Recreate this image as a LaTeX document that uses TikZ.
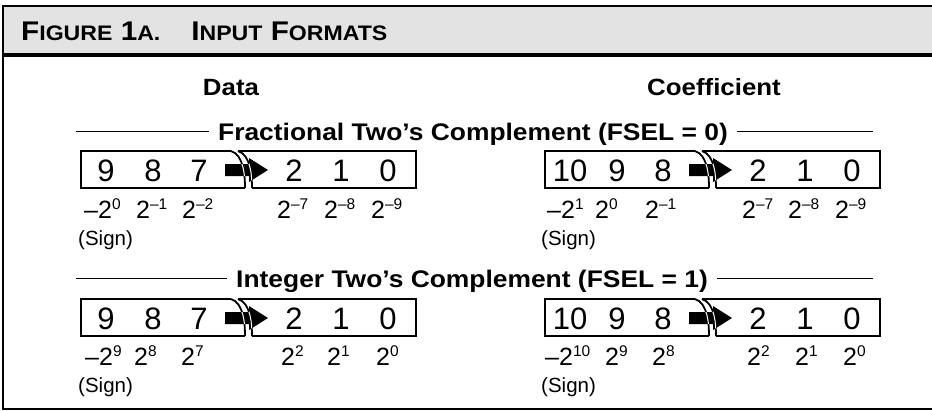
\documentclass[tikz,border=0pt]{standalone}
\usepackage{fontspec}
\setmainfont{Liberation Sans}
\newfontfamily\hb{Liberation Sans}[FakeStretch=1.1]
\definecolor{hdrgray}{HTML}{E3E3E3}
\newcommand\dg{\fontsize{31}{32}\selectfont}
\newcommand\ex{\fontsize{25}{26}\selectfont}
\newcommand\sps{\fontsize{15.5}{16}\selectfont}
\newcommand\smc{\fontsize{21}{21}\selectfont}
\newcommand\pw[2]{#1\raisebox{9pt}{\sps #2}}
\tikzset{
  frame/.style={line width=2pt},
  boxline/.style={line width=2.3pt},
  arcline/.style={line width=1.8pt},
  digit/.style={anchor=base, inner sep=0pt, font=\dg},
  expo/.style={anchor=base west, inner sep=0pt, font=\ex},
  sign/.style={anchor=base west, inner sep=0pt, font=\fontsize{20.5}{21}\selectfont},
  heading/.style={inner xsep=9pt, inner ysep=0pt, anchor=base, font=\hb\bfseries\fontsize{24}{25}\selectfont},
  colhead/.style={inner sep=0pt, anchor=base, font=\hb\bfseries\fontsize{23.5}{24}\selectfont},
  rule/.style={line width=0.9pt}
}
% #1 prefix, #2 x, #3 y, #4..#9 digits
\newcommand\regbox[9]{%
  \begin{scope}[shift={(#2,#3)}]
    \draw[boxline] (150,0) -- (0,0) -- (0,37) -- (164,37);
    \draw[boxline] (157,0) -- (335,0) -- (335,37) -- (171,37);
    \draw[arcline] (150,0) .. controls (163,4) and (164,26) .. (164,37);
    \draw[arcline] (157,0) .. controls (170,4) and (171,26) .. (171,37);
    \fill (144,13) -- (168,13) -- (168,7) -- (187,19) -- (168,31) -- (168,25) -- (144,25) -- cycle;
    \begin{scope}
      \clip (144,13) -- (168,13) -- (168,7) -- (187,19) -- (168,31) -- (168,25) -- (144,25) -- cycle;
      \draw[white, line width=1pt] (150,0) .. controls (163,4) and (164,26) .. (164,37);
      \draw[white, line width=1pt] (157,0) .. controls (170,4) and (171,26) .. (171,37);
    \end{scope}
    \node[digit] (#1d1) at (25,30) {#4};
    \node[digit] (#1d2) at (72,30) {#5};
    \node[digit] (#1d3) at (118,30) {#6};
    \node[digit] (#1d4) at (213,30) {#7};
    \node[digit] (#1d5) at (260,30) {#8};
    \node[digit] (#1d6) at (307,30) {#9};
  \end{scope}}
\begin{document}
\begin{tikzpicture}[x=1pt,y=-1pt]
\useasboundingbox (0,0) rectangle (932,410);
\clip (0,0) rectangle (932,410);
% frame and header
\fill[hdrgray] (3,6) rectangle (940,55);
\draw[frame] (940,6) -- (3,6) -- (3,409) -- (940,409);
\draw[line width=3.3pt] (3,55) -- (940,55);
\node[anchor=base west, inner sep=0pt, font=\hb\bfseries\fontsize{27}{27}\selectfont] (title) at (21,40)
  {F{\smc IGURE} 1{\smc A.}\hspace{31pt}I{\smc NPUT} F{\smc ORMATS}};
% column headings
\node[colhead] (data) at (231,95) {Data};
\node[colhead] (coef) at (714,95) {Coefficient};
% section 1
\node[heading] (h1) at (473,140) {Fractional Two’s Complement (FSEL = 0)};
\coordinate (h1l) at (76,131);
\coordinate (h1r) at (873,131);
\draw[rule] (h1l) -- (h1l -| h1.west);
\draw[rule] (h1r) -- (h1r -| h1.east);
\regbox{a}{81}{151}{9}{8}{7}{2}{1}{0}
\regbox{b}{545}{151}{10}{9}{8}{2}{1}{0}
\node[expo] (ae1) at (84,218) {\pw{–2}{0}};
\node[expo] (ae2) at (136,218) {\pw{2}{–1}};
\node[expo] (ae3) at (182,218) {\pw{2}{–2}};
\node[expo] (ae4) at (277,218) {\pw{2}{–7}};
\node[expo] (ae5) at (324,218) {\pw{2}{–8}};
\node[expo] (ae6) at (371,218) {\pw{2}{–9}};
\node[sign] (as) at (78,245) {(Sign)};
\node[expo] (be1) at (547,218) {\pw{–2}{1}};
\node[expo] (be2) at (595,218) {\pw{2}{0}};
\node[expo] (be3) at (645,218) {\pw{2}{–1}};
\node[expo] (be4) at (742,218) {\pw{2}{–7}};
\node[expo] (be5) at (788,218) {\pw{2}{–8}};
\node[expo] (be6) at (835,218) {\pw{2}{–9}};
\node[sign] (bs) at (541,245) {(Sign)};
% section 2
\node[heading] (h2) at (472,287.5) {Integer Two’s Complement (FSEL = 1)};
\coordinate (h2l) at (76,278.5);
\coordinate (h2r) at (873,278.5);
\draw[rule] (h2l) -- (h2l -| h2.west);
\draw[rule] (h2r) -- (h2r -| h2.east);
\regbox{c}{81}{299}{9}{8}{7}{2}{1}{0}
\regbox{d}{545}{299}{10}{9}{8}{2}{1}{0}
\node[expo] (ce1) at (85,365) {\pw{–2}{9}};
\node[expo] (ce2) at (134,365) {\pw{2}{8}};
\node[expo] (ce3) at (181,365) {\pw{2}{7}};
\node[expo] (ce4) at (281,365) {\pw{2}{2}};
\node[expo] (ce5) at (327,365) {\pw{2}{1}};
\node[expo] (ce6) at (376,365) {\pw{2}{0}};
\node[sign] (cs) at (78,392) {(Sign)};
\node[expo] (de1) at (545,365) {\pw{–2}{10}};
\node[expo] (de2) at (605,365) {\pw{2}{9}};
\node[expo] (de3) at (652,365) {\pw{2}{8}};
\node[expo] (de4) at (747,365) {\pw{2}{2}};
\node[expo] (de5) at (795,365) {\pw{2}{1}};
\node[expo] (de6) at (843,365) {\pw{2}{0}};
\node[sign] (ds) at (541,392) {(Sign)};
\end{tikzpicture}
\end{document}
